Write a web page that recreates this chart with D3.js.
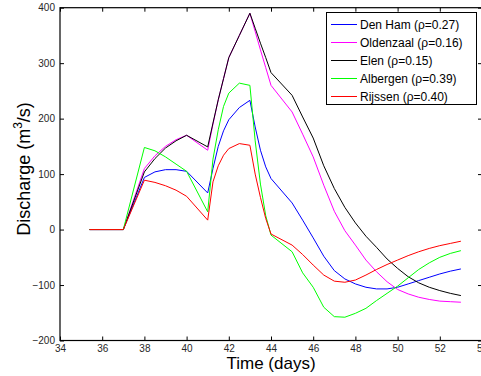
<!DOCTYPE html>
<html>
<head>
<meta charset="utf-8">
<script src="https://cdn.jsdelivr.net/npm/d3@7"></script>
<style>
  body { margin: 0; background: #fff; }
  text { font-family: "Liberation Sans", Arial, sans-serif; }
</style>
</head>
<body>
<div id="chart"></div>
<script>
// Time axis (days) shared by all stations
var times = [35.4, 37, 38, 38.5, 39, 39.5, 40, 41, 41.25, 41.5, 41.75, 42, 42.5, 43, 43.25, 43.5, 43.75, 44, 45, 45.5,
             46, 46.5, 47, 47.5, 48, 48.5, 49, 49.5, 50, 50.5, 51, 51.5, 52, 52.5, 53];

// Discharge values (m3/s) for each station
var denHam    = [0, 0, 94, 104, 108, 108, 105, 66, 110, 150, 178, 198, 220, 233, 185, 143, 113, 92, 48, 17,
                 -15, -48, -74, -89, -98, -104, -107, -107, -104, -98, -92, -86, -80, -75, -71];
var oldenzaal = [0, 0, 110, 133, 150, 162, 170, 143, 190, 234, 272, 310, 350, 390, 357, 324, 292, 260, 212, 172,
                 131, 80, 33, -2, -28, -55, -76, -94, -108, -116, -122, -126, -129, -130, -131];
var elen      = [0, 0, 104, 128, 147, 160, 170, 149, 192, 234, 272, 310, 350, 390, 363, 336, 310, 283, 242, 203,
                 165, 115, 74, 40, 12, -12, -32, -53, -70, -85, -96, -104, -110, -115, -119];
var albergen  = [0, 0, 148, 142, 131, 118, 105, 32, 127, 180, 222, 246, 264, 260, 160, 82, 25, -10, -40, -78,
                 -104, -140, -157, -158, -151, -142, -128, -115, -102, -87, -72, -60, -50, -43, -38];
var rijssen   = [0, 0, 89, 85, 79, 71, 60, 17, 86, 115, 134, 146, 155, 152, 100, 58, 20, -8, -28, -45,
                 -64, -82, -93, -95, -91, -82, -72, -63, -55, -47, -40, -34, -29, -25, -21];

var seriesNames = ["Den Ham (\u03c1=0.27)", "Oldenzaal (\u03c1=0.16)", "Elen (\u03c1=0.15)", "Albergen (\u03c1=0.39)", "Rijssen (\u03c1=0.40)"];
var seriesValues = [denHam, oldenzaal, elen, albergen, rijssen];
var seriesColors = ["#0000ff", "#ff00ff", "#000000", "#00ff00", "#ff0000"];

var xTicks = [34, 36, 38, 40, 42, 44, 46, 48, 50, 52, 54];
var yTicks = [-200, -100, 0, 100, 200, 300, 400];

var width = 481, height = 376;
var plotLeft = 60, plotRight = 482, plotTop = 7.7, plotBottom = 340.5;

var svg = d3.select("#chart").append("svg")
    .attr("width", width)
    .attr("height", height);

var x = d3.scaleLinear().domain([34, 54]).range([plotLeft, plotRight]);
var y = d3.scaleLinear().domain([-200, 400]).range([plotBottom, plotTop]);

function fmt(d) { return d < 0 ? "\u2212" + Math.abs(d) : String(d); }

// Axes, matlab style: ticks pointing inward on all four sides
svg.append("g")
    .attr("transform", "translate(0," + plotBottom + ")")
    .call(d3.axisBottom(x).tickValues(xTicks).tickSizeInner(-4).tickSizeOuter(0).tickPadding(4).tickFormat(fmt))
    .call(function (g) {
      g.select(".domain").remove();
      g.selectAll("text").attr("font-size", 10).attr("fill", "#262626").attr("font-family", "Liberation Sans, Arial, sans-serif");
    });
svg.append("g")
    .attr("transform", "translate(0," + plotTop + ")")
    .call(d3.axisTop(x).tickValues(xTicks).tickSizeInner(-4).tickSizeOuter(0).tickFormat(""))
    .call(function (g) { g.select(".domain").remove(); });
svg.append("g")
    .attr("transform", "translate(" + plotLeft + ",0)")
    .call(d3.axisLeft(y).tickValues(yTicks).tickSizeInner(-4).tickSizeOuter(0).tickPadding(5).tickFormat(fmt))
    .call(function (g) {
      g.select(".domain").remove();
      g.selectAll("text").attr("font-size", 10).attr("fill", "#262626").attr("font-family", "Liberation Sans, Arial, sans-serif");
    });
svg.append("g")
    .attr("transform", "translate(" + plotRight + ",0)")
    .call(d3.axisRight(y).tickValues(yTicks).tickSizeInner(-4).tickSizeOuter(0).tickFormat(""))
    .call(function (g) { g.select(".domain").remove(); });

// The lines
var line = d3.line()
    .x(function (d) { return x(d[0]); })
    .y(function (d) { return y(d[1]); });

seriesValues.forEach(function (vals, i) {
  svg.append("path")
      .datum(times.map(function (t, j) { return [t, vals[j]]; }))
      .attr("d", line)
      .attr("fill", "none")
      .attr("stroke", seriesColors[i])
      .attr("stroke-width", 1);
});

// Box around the plot
svg.append("rect")
    .attr("x", plotLeft)
    .attr("y", plotTop)
    .attr("width", plotRight - plotLeft)
    .attr("height", plotBottom - plotTop)
    .attr("fill", "none")
    .attr("stroke", "#000")
    .attr("stroke-width", 1.2);

// Axis labels
svg.append("text")
    .attr("x", 271)
    .attr("y", 369)
    .attr("text-anchor", "middle")
    .attr("font-size", 17)
    .text("Time (days)");

var ylab = svg.append("text")
    .attr("transform", "translate(30,169) rotate(-90)")
    .attr("text-anchor", "middle")
    .attr("font-size", 18);
ylab.append("tspan").text("Discharge (m");
ylab.append("tspan").attr("font-size", 12).attr("dy", -8).text("3");
ylab.append("tspan").attr("dy", 8).text("/s)");

// Legend
var legend = svg.append("g");
legend.append("rect")
    .attr("x", 326.5)
    .attr("y", 12.5)
    .attr("width", 150)
    .attr("height", 92)
    .attr("fill", "#fff")
    .attr("stroke", "#000")
    .attr("stroke-width", 1);

var rows = legend.selectAll(".row")
    .data(seriesNames)
    .enter().append("g")
    .attr("class", "row")
    .attr("transform", function (d, i) { return "translate(0," + (Math.round(24 + i * 17.9) + 0.5) + ")"; });
rows.append("line")
    .attr("x1", 331).attr("x2", 357)
    .attr("stroke", function (d, i) { return seriesColors[i]; })
    .attr("stroke-width", 1);
rows.append("text")
    .attr("x", 360)
    .attr("dy", "0.35em")
    .attr("font-size", 12)
    .text(function (d) { return d; });
</script>
</body>
</html>
